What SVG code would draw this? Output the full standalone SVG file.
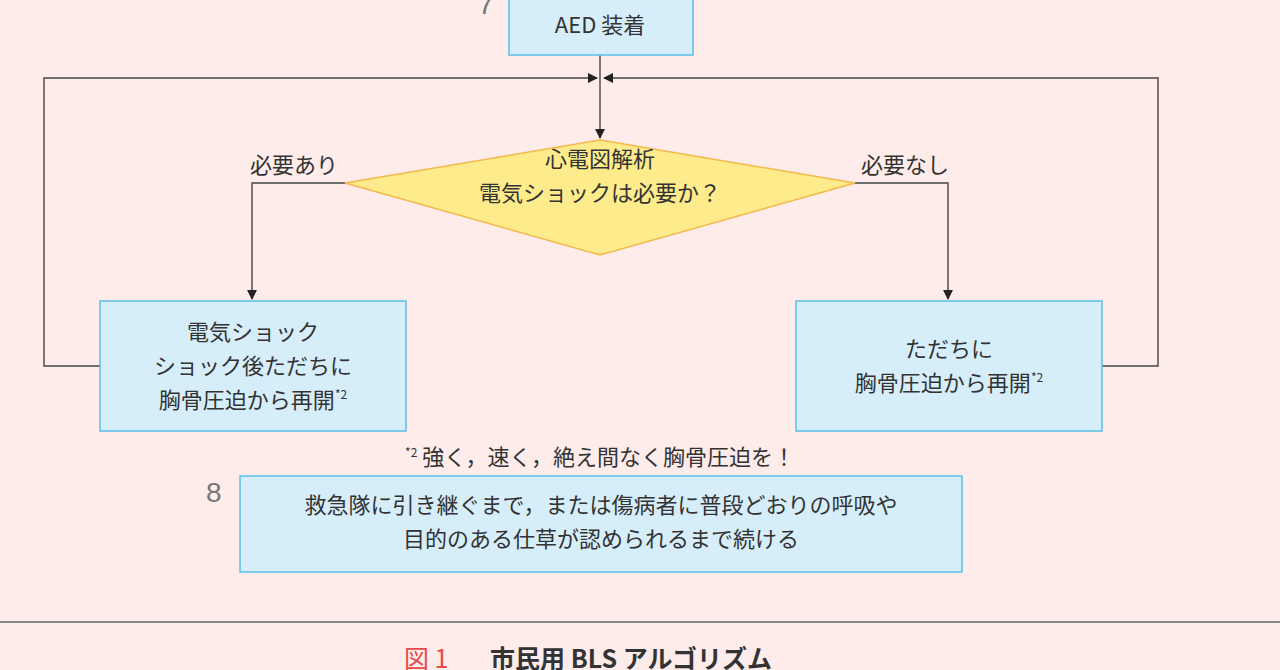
<svg xmlns="http://www.w3.org/2000/svg" width="1280" height="670" viewBox="0 0 1280 670">
<style>
text{font-family:"Noto Sans CJK JP","Noto Sans",sans-serif;fill:#333;font-size:22px}
.c{text-anchor:middle}
.box{fill:#d6eefa;stroke:#5bbde8;stroke-width:1.5}
.ln{fill:none;stroke:#444;stroke-width:1.4}
.sup{font-size:12px}
</style>
<defs><marker id="a" markerWidth="10" markerHeight="10" refX="9" refY="5" orient="auto" markerUnits="userSpaceOnUse"><path d="M0,0 L10,5 L0,10 Z" fill="#222"/></marker></defs>
<rect width="1280" height="670" fill="#fdecea"/>
<g id="connectors">
<path class="ln" d="M600,55 V138" marker-end="url(#a)"/>
<path class="ln" d="M100,366 H44 V78 H597" marker-end="url(#a)"/>
<path class="ln" d="M1102,366 H1158 V78 H604" marker-end="url(#a)"/>
<path class="ln" d="M345,183 H252 V299" marker-end="url(#a)"/>
<path class="ln" d="M855,183 H948 V299" marker-end="url(#a)"/>
<text x="294" y="173" class="c">必要あり</text>
<text x="905" y="173" class="c">必要なし</text>
</g>
<text x="478" y="14" style="fill:#777;font-size:28px;font-family:'Liberation Sans',sans-serif">7</text>
<g id="aed"><rect class="box" x="509" y="-2" width="184" height="57"/><text x="600" y="33" class="c">AED 装着</text></g>
<g id="analysis"><polygon points="600,140 855,183 600,255 345,183" fill="#fdeb8c" stroke="#f5b84a" stroke-width="1.5"/>
<text x="600" y="167" class="c">心電図解析</text><text x="600" y="201" class="c">電気ショックは必要か？</text></g>
<g id="shock"><rect class="box" x="100" y="301" width="306" height="130"/>
<text x="253" y="340" class="c">電気ショック</text><text x="253" y="374" class="c">ショック後ただちに</text>
<text x="253" y="408" class="c">胸骨圧迫から再開<tspan class="sup" dy="-9">*2</tspan></text></g>
<g id="noshock"><rect class="box" x="796" y="301" width="306" height="130"/>
<text x="949" y="357" class="c">ただちに</text><text x="949" y="391" class="c">胸骨圧迫から再開<tspan class="sup" dy="-9">*2</tspan></text></g>
<text x="600" y="465" class="c"><tspan class="sup" dy="-8">*2</tspan><tspan dy="8"> 強く，速く，絶え間なく胸骨圧迫を！</tspan></text>
<text x="206" y="502" style="fill:#777;font-size:28px;font-family:'Liberation Sans',sans-serif">8</text>
<g id="continue"><rect class="box" x="240" y="476" width="722" height="96"/>
<text x="601" y="513" class="c">救急隊に引き継ぐまで，または傷病者に普段どおりの呼吸や</text>
<text x="601" y="547" class="c">目的のある仕草が認められるまで続ける</text></g>
<line x1="0" y1="622" x2="1280" y2="622" stroke="#888" stroke-width="2"/>
<text x="404" y="668" style="fill:#e54b4b;font-size:25px">図 1</text>
<text x="490" y="668" style="font-size:25px;font-weight:bold">市民用 BLS アルゴリズム</text>
</svg>
